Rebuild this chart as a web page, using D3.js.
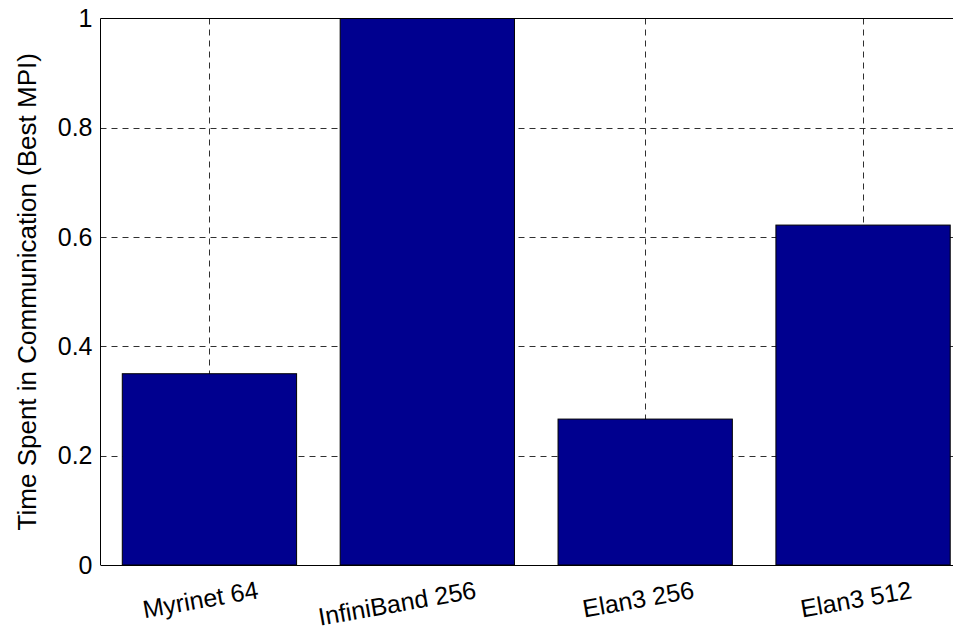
<!DOCTYPE html>
<html>
<head>
<meta charset="utf-8">
<script src="https://cdn.jsdelivr.net/npm/d3@7"></script>
<style>
  html, body { margin: 0; padding: 0; background: #fff; }
  svg { display: block; }
  text { font-family: "Liberation Sans", Arial, sans-serif; fill: #000; }
</style>
</head>
<body>
<svg id="chart" width="953" height="634"></svg>
<script>
const categories = ["Myrinet 64", "InfiniBand 256", "Elan3 256", "Elan3 512"];
const values = [0.35, 1.0, 0.267, 0.622];
const yTicks = [0, 0.2, 0.4, 0.6, 0.8, 1];
const yTickLabels = ["0", "0.2", "0.4", "0.6", "0.8", "1"];
const yLabel = "Time Spent in Communication (Best MPI)";

(function () {
const pLeft = 100.5, pRight = 972, pTop = 18.5, pBottom = 565;
const svg = d3.select("#chart");

const x = d3.scaleLinear().domain([0.5, categories.length + 0.5]).range([pLeft, pRight]);
const y = d3.scaleLinear().domain([0, 1]).range([pBottom, pTop]);
const barW = (x(2) - x(1)) * 0.8;

// grid
const grid = svg.append("g").attr("stroke", "#303030").attr("stroke-width", 1)
  .attr("stroke-dasharray", "6,5").attr("fill", "none");
grid.selectAll("line.h").data(yTicks.filter(t => t > 0 && t < 1)).join("line")
  .attr("class", "h")
  .attr("x1", pLeft).attr("x2", pRight)
  .attr("y1", d => Math.round(y(d)) + 0.5).attr("y2", d => Math.round(y(d)) + 0.5);
grid.selectAll("line.v").data(categories.map((c, i) => i + 1)).join("line")
  .attr("class", "v")
  .attr("x1", d => Math.round(x(d)) + 0.5).attr("x2", d => Math.round(x(d)) + 0.5)
  .attr("y1", pTop).attr("y2", pBottom);

// bars
svg.append("g").selectAll("rect").data(values).join("rect")
  .attr("x", (d, i) => x(i + 1) - barW / 2)
  .attr("width", barW)
  .attr("y", d => y(d))
  .attr("height", d => y(0) - y(d))
  .attr("fill", "#00008f")
  .attr("stroke", "#000")
  .attr("stroke-width", 1);

// y axis
const yAxis = d3.axisLeft(y).tickValues(yTicks).tickFormat((d, i) => yTickLabels[i]).tickSize(0).tickPadding(8);
const gy = svg.append("g").attr("transform", `translate(${pLeft},0)`).call(yAxis);
gy.select(".domain").remove();
gy.selectAll("text").attr("font-size", 25).attr("font-family", "Liberation Sans, Arial, sans-serif").attr("fill", "#000");

// frame
svg.append("line").attr("x1", pLeft).attr("x2", pLeft).attr("y1", pTop).attr("y2", pBottom).attr("stroke", "#000");
svg.append("line").attr("x1", pLeft).attr("x2", pRight).attr("y1", pTop).attr("y2", pTop).attr("stroke", "#000");
svg.append("line").attr("x1", pLeft).attr("x2", pRight).attr("y1", pBottom + 0.5).attr("y2", pBottom + 0.5).attr("stroke", "#000");
svg.append("line").attr("x1", pRight).attr("x2", pRight).attr("y1", pTop).attr("y2", pBottom).attr("stroke", "#000");

// x labels (rotated)
svg.append("g").selectAll("text").data(categories).join("text")
  .attr("transform", (d, i) => `translate(${x(i + 1) + 50},598) rotate(-10)`)
  .attr("text-anchor", "end")
  .attr("font-size", 25)
  .text(d => d);

// y label
svg.append("text")
  .attr("transform", `translate(36,${(pTop + pBottom) / 2}) rotate(-90)`)
  .attr("text-anchor", "middle")
  .attr("font-size", 26)
  .text(yLabel);
})();
</script>
</body>
</html>
